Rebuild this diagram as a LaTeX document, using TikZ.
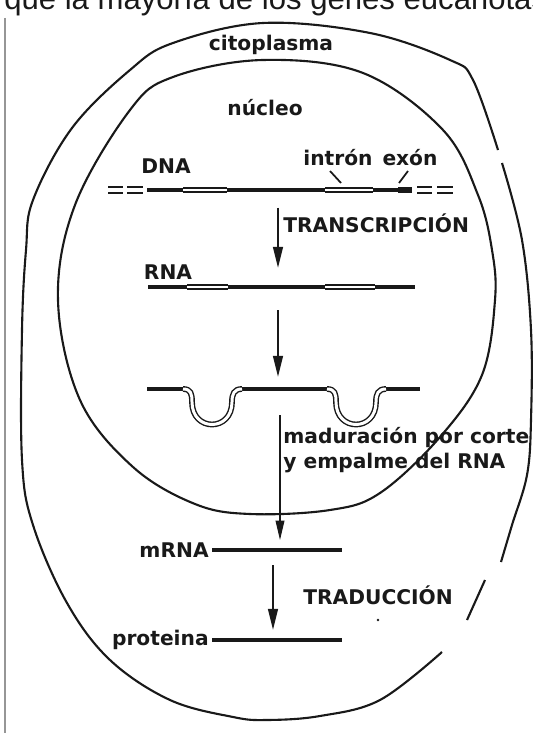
\documentclass[tikz,border=0pt]{standalone}
\usepackage{fontspec}
\usepackage{tikz}
\usetikzlibrary{arrows.meta}
\newfontfamily\figfont{DejaVu Sans Bold}
\newfontfamily\bookfont{Liberation Sans}
\definecolor{ink}{RGB}{25,25,25}
\definecolor{scanline}{RGB}{150,150,150}
\tikzset{
  membrane/.style={draw=ink, line width=1.2pt},
  strand/.style={draw=ink, line width=2.7pt},
  thinstrand/.style={draw=ink, line width=2pt},
  intronseg/.style={draw=ink, line width=0.8pt, double=white, double distance=1.7pt},
  endmark/.style={draw=ink, line width=1.5pt},
  pointer/.style={draw=ink, line width=1pt},
  flowarrow/.style={-{Triangle[length=12pt,width=5.5pt]}, draw=ink, fill=ink, line width=1.4pt},
  thinarrow/.style={-{Triangle[length=11pt,width=5pt]}, draw=ink, fill=ink, line width=0.7pt},
  lbl/.style={font=\figfont\fontsize{11.5}{14.2}\selectfont, text=ink, inner sep=0pt}
}

\begin{document}
\begin{tikzpicture}[x=0.02cm, y=-0.02cm]
  \useasboundingbox (0,0) rectangle (533,733);

  % Cut-off line of the page above
  \node[font=\bookfont\fontsize{17.7}{20}\selectfont, text=ink, anchor=base west, inner sep=0pt] (pagetext) at (4,10) {que la mayoría de los genes eucariotas};
  \draw[scanline, line width=0.6pt] (5,18) -- (5,733);

  % Outer cell boundary (broken on the lower right)
  \draw[membrane] plot[smooth, tension=0.6] coordinates {(442,652) (380,700) (320,716) (267,720) (233,717) (170,700) (110,660) (67,603) (33,525) (22,460) (22,330) (26,250) (33,200) (72,128) (130,70) (173,43) (263,23) (370,33) (450,60) (473,80) (498,150)};
  \draw[membrane] plot[smooth, tension=0.6] coordinates {(502,163) (522,240) (531,330) (531,420) (527,475) (512,525) (501,562)};
  \draw[membrane] (485,580) -- (467,620);
  \fill[ink] (378,620) circle (0.8pt);

  % Nucleus
  \draw[membrane] plot[smooth cycle, tension=0.6] coordinates {(263,60) (363,73) (443,130) (478,195) (492,250) (495,300) (482,375) (440,437) (380,493) (330,510) (250,514) (195,504) (133,467) (80,400) (58,300) (75,205) (130,110) (173,77)};

  % Labels
  \node[lbl] (cyto) at (271,45) {citoplasma};
  \node[lbl] (nucl) at (265,108) {núcleo};
  \node[lbl] (dnalbl) at (166,166) {DNA};
  \node[lbl] (intron) at (338,158) {intrón};
  \node[lbl] (exon) at (410,158) {exón};
  \node[lbl, anchor=west] (transc) at (283,223) {TRANSCRIPCIÓN};
  \node[lbl] (rnalbl) at (168,272) {RNA};
  \node[lbl, anchor=west, align=left] (splice) at (283,450) {maduración por corte\\y empalme del RNA};
  \node[lbl, anchor=east] (mrnalbl) at (209,550) {mRNA};
  \node[lbl, anchor=west] (transl) at (303,595) {TRADUCCIÓN};
  \node[lbl, anchor=east] (protlbl) at (209,640) {proteina};

  % DNA
  \foreach \a/\b in {108/123, 127/143, 417/432, 437/453} {
    \draw[endmark] (\a,187) -- (\b,187);
    \draw[endmark] (\a,193) -- (\b,193);
  }
  \draw[strand] (147,190) -- (412,190);
  \draw[ink, line width=3.4pt] (398,190) -- (412,190);
  \draw[intronseg] (183,190) -- (227,190);
  \draw[intronseg] (325,190) -- (373,190);
  \coordinate (intip) at (341,183);
  \coordinate (extip) at (399,183);
  \draw[pointer] (330,171) -- (intip);
  \draw[pointer] (408,171) -- (extip);

  % RNA
  \draw[thinstrand] (148,287) -- (178,287);
  \draw[strand] (178,287) -- (415,287);
  \draw[intronseg] (187,287) -- (228,287);
  \draw[intronseg] (325,287) -- (375,287);

  % Spliced RNA with intron loops
  \draw[strand] (147,389) -- (185,389);
  \draw[strand] (240,389) -- (329,389);
  \draw[strand] (384,389) -- (420,389);
  \foreach \s in {183,327} {
    \draw[intronseg] (\s,389) .. controls (\s+8,389) and (\s+9,394) .. (\s+9,402)
      .. controls (\s+9,432) and (\s+49,432) .. (\s+49,402)
      .. controls (\s+49,394) and (\s+51,389) .. (\s+59,389);
  }

  % mRNA and protein
  \draw[thinstrand] (212,550) -- (342,550);
  \draw[strand] (243,550) -- (315,550);
  \draw[thinstrand] (212,640) -- (342,640);
  \draw[strand] (243,640) -- (315,640);

  % Arrows
  \coordinate (dnaout) at (278,208);
  \coordinate (rnain) at (278,268);
  \coordinate (rnaout) at (278,310);
  \coordinate (prein) at (278,377);
  \coordinate (preout) at (280,415);
  \coordinate (mrnain) at (280,540);
  \coordinate (mrnaout) at (273,565);
  \coordinate (protin) at (273,630);
  \draw[flowarrow] (dnaout) -- (rnain);
  \draw[flowarrow] (rnaout) -- (prein);
  \draw[thinarrow] (preout) -- (mrnain);
  \draw[flowarrow] (mrnaout) -- (protin);
\end{tikzpicture}
\end{document}
